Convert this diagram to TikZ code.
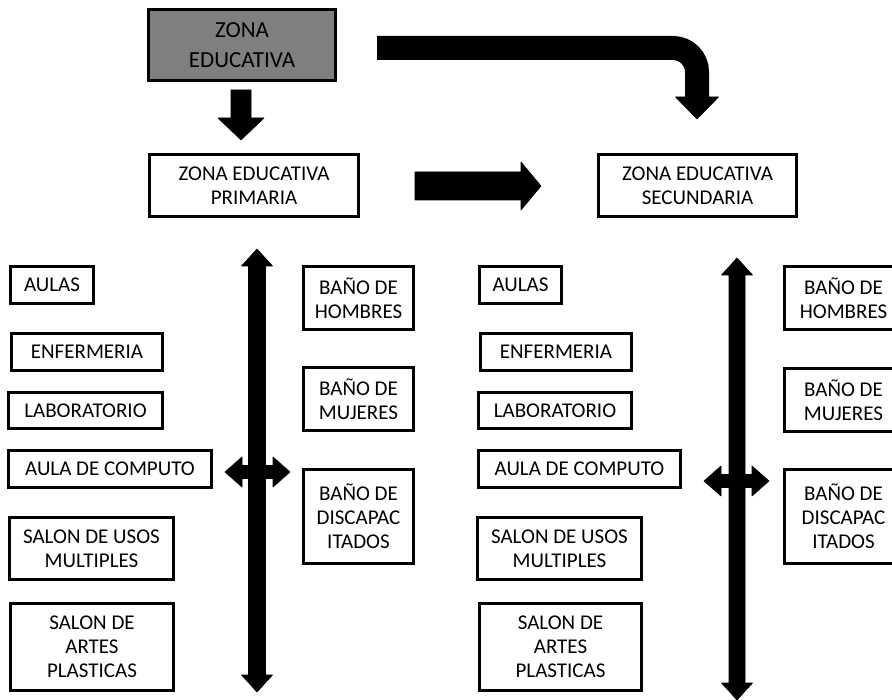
\documentclass[tikz,border=0pt]{standalone}
\usepackage{fontspec}
\setmainfont{Carlito}
\begin{document}
\begin{tikzpicture}[x=1pt,y=-1pt,
  box/.style={draw, line width=2.6pt, fill=white, align=center, inner sep=0pt,
    font=\fontsize{21}{24}\selectfont},
  headbox/.style={box, fill=headgray, font=\fontsize{23}{30}\selectfont},
  blk/.style={fill=black, draw=black, line width=0.6pt, line join=round}]
\definecolor{headgray}{HTML}{7F7F7F}
\useasboundingbox (0,0) rectangle (892,700);

% main zones
\node[headbox, minimum width=187, minimum height=71] (top) at (242,45) {ZONA\\EDUCATIVA};
\node[box, minimum width=209, minimum height=62] (prim) at (254,185.5) {ZONA EDUCATIVA\\PRIMARIA};
\node[box, minimum width=198, minimum height=62] (sec) at (697.5,185.5) {ZONA EDUCATIVA\\SECUNDARIA};

% primary: rooms on the left
\node[box, minimum width=83, minimum height=37] (paulas) at (52,285) {AULAS};
\node[box, minimum width=151, minimum height=37] (penf) at (87,352) {ENFERMERIA};
\node[box, minimum width=154, minimum height=36] (plab) at (85.5,410.5) {LABORATORIO};
\node[box, minimum width=203, minimum height=37] (pcomp) at (110,469) {AULA DE COMPUTO};
\node[box, minimum width=164, minimum height=62] (pusos) at (91.5,548.5) {SALON DE USOS\\MULTIPLES};
\node[box, minimum width=163, minimum height=87] (partes) at (92,647) {SALON DE\\ARTES\\PLASTICAS};

% primary: restrooms on the right
\node[box, minimum width=110, minimum height=63] (phom) at (358.5,298) {BAÑO DE\\HOMBRES};
\node[box, minimum width=110, minimum height=63] (pmuj) at (358.5,399) {BAÑO DE\\MUJERES};
\node[box, minimum width=110, minimum height=94] (pdisc) at (358.5,516.5) {BAÑO DE\\DISCAPAC\\ITADOS};

% secondary: rooms on the left
\node[box, minimum width=82, minimum height=37] (saulas) at (520.5,285) {AULAS};
\node[box, minimum width=151, minimum height=37] (senf) at (556,352) {ENFERMERIA};
\node[box, minimum width=153, minimum height=36] (slab) at (555,410.5) {LABORATORIO};
\node[box, minimum width=202, minimum height=37] (scomp) at (579.5,469) {AULA DE COMPUTO};
\node[box, minimum width=164, minimum height=62] (susos) at (559.5,548.5) {SALON DE USOS\\MULTIPLES};
\node[box, minimum width=162, minimum height=87] (sartes) at (560.5,647) {SALON DE\\ARTES\\PLASTICAS};

% secondary: restrooms on the right
\node[box, minimum width=118, minimum height=63] (shom) at (843.5,298) {BAÑO DE\\HOMBRES};
\node[box, minimum width=118, minimum height=63] (smuj) at (843.5,400) {BAÑO DE\\MUJERES};
\node[box, minimum width=118, minimum height=94] (sdisc) at (843.5,516.5) {BAÑO DE\\DISCAPAC\\ITADOS};

% block arrow: top zone down to primary
\path[blk] (231,90) -- (251,90) -- (251,118) -- (264,118) -- (241,140) -- (218,118) -- (231,118) -- cycle;

% block arrow: primary to secondary
\path[blk] (415,172) -- (521,172) -- (521,162) -- (541,186) -- (521,210) -- (521,200) -- (415,200) -- cycle;

% bent block arrow: top zone over to secondary
\draw[line width=24pt, rounded corners=24pt] (377,48) -- (697,48) -- (697,98);
\path[blk] (675.5,97) -- (718.5,97) -- (697,119) -- cycle;

% primary corridor: vertical and horizontal double arrows
\path[blk] (257,249) -- (272.5,266) -- (265.5,266) -- (265.5,675) -- (272.5,675) -- (257,692)
  -- (241.5,675) -- (248.5,675) -- (248.5,266) -- (241.5,266) -- cycle;
\path[blk] (225,472) -- (242,457) -- (242,465.5) -- (273,465.5) -- (273,457) -- (290,472)
  -- (273,487) -- (273,478.5) -- (242,478.5) -- (242,487) -- cycle;

% secondary corridor: vertical and horizontal double arrows
\path[blk] (737,258) -- (752.5,275) -- (745,275) -- (745,683) -- (752.5,683) -- (737,700)
  -- (721.5,683) -- (729,683) -- (729,275) -- (721.5,275) -- cycle;
\path[blk] (704,481) -- (721,466) -- (721,474.5) -- (752,474.5) -- (752,466) -- (769,481)
  -- (752,496) -- (752,487.5) -- (721,487.5) -- (721,496) -- cycle;
\end{tikzpicture}
\end{document}
